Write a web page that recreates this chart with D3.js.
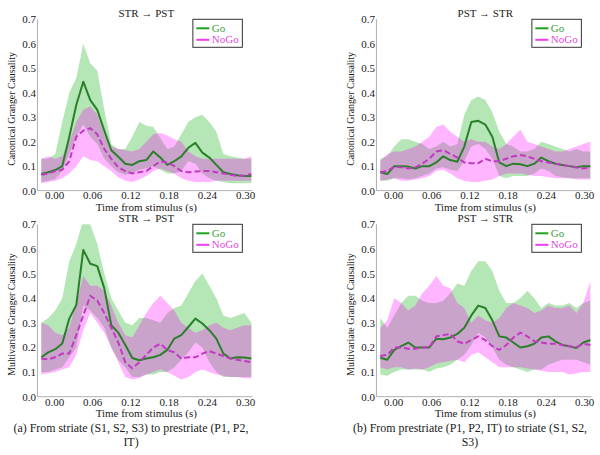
<!DOCTYPE html>
<html><head><meta charset="utf-8">
<script src="https://cdn.jsdelivr.net/npm/d3@7"></script>
<style>
body{margin:0;background:#fff}
svg{display:block}
text{font-family:"Liberation Serif","Times New Roman",Times,serif;fill:#1a1a1a}
</style>
</head><body>
<svg id="chart" width="600" height="455"></svg>
<script>
// ---------------- data ----------------
const time = [-0.020,-0.009,0.002,0.013,0.024,0.035,0.046,0.057,0.068,0.079,0.090,0.101,0.112,0.123,0.134,0.145,0.156,0.167,0.178,0.189,0.200,0.211,0.222,0.233,0.244,0.255,0.266,0.277,0.288,0.299,0.310];
const xTickValues = [0.00,0.06,0.12,0.18,0.24,0.30];
const yTickValues = [0.0,0.1,0.2,0.3,0.4,0.5,0.6,0.7];
const seriesNames = ["Go","NoGo"];

// Canonical GC, STR -> PST
const cgcSP_goMean = [0.068,0.075,0.084,0.10,0.22,0.35,0.445,0.37,0.33,0.245,0.165,0.138,0.11,0.105,0.12,0.125,0.16,0.135,0.105,0.12,0.14,0.175,0.195,0.155,0.135,0.105,0.075,0.068,0.063,0.06,0.06];
const cgcSP_goLo   = [0.035,0.04,0.047,0.08,0.15,0.22,0.27,0.22,0.19,0.13,0.10,0.075,0.065,0.07,0.085,0.09,0.10,0.085,0.07,0.07,0.08,0.12,0.11,0.07,0.05,0.04,0.035,0.03,0.03,0.03,0.03];
const cgcSP_goHi   = [0.13,0.13,0.15,0.28,0.40,0.46,0.60,0.52,0.49,0.33,0.19,0.17,0.17,0.22,0.28,0.265,0.26,0.215,0.17,0.18,0.23,0.28,0.30,0.31,0.28,0.24,0.15,0.14,0.135,0.13,0.13];
const cgcSP_noMean = [0.065,0.07,0.08,0.085,0.12,0.22,0.245,0.255,0.23,0.17,0.13,0.095,0.08,0.07,0.075,0.08,0.10,0.12,0.115,0.10,0.08,0.075,0.078,0.08,0.08,0.075,0.07,0.065,0.06,0.062,0.068];
const cgcSP_noLo   = [0.03,0.035,0.04,0.05,0.07,0.10,0.14,0.125,0.12,0.10,0.08,0.055,0.04,0.035,0.045,0.06,0.08,0.09,0.08,0.07,0.05,0.04,0.035,0.035,0.035,0.04,0.04,0.04,0.04,0.04,0.04];
const cgcSP_noHi   = [0.13,0.14,0.13,0.14,0.20,0.28,0.33,0.345,0.31,0.23,0.18,0.17,0.165,0.16,0.17,0.20,0.23,0.235,0.225,0.21,0.20,0.16,0.14,0.13,0.13,0.13,0.13,0.13,0.13,0.13,0.14];

// Canonical GC, PST -> STR
const cgcPS_goMean = [0.075,0.068,0.10,0.10,0.098,0.09,0.10,0.10,0.115,0.14,0.125,0.118,0.18,0.28,0.285,0.27,0.22,0.115,0.10,0.11,0.108,0.10,0.11,0.135,0.12,0.11,0.105,0.10,0.095,0.10,0.10];
const cgcPS_goLo   = [0.04,0.04,0.05,0.05,0.045,0.05,0.06,0.07,0.09,0.095,0.085,0.08,0.12,0.18,0.19,0.17,0.13,0.06,0.05,0.06,0.06,0.06,0.07,0.09,0.08,0.06,0.055,0.05,0.05,0.05,0.05];
const cgcPS_goHi   = [0.13,0.14,0.18,0.21,0.21,0.20,0.19,0.17,0.18,0.20,0.18,0.19,0.31,0.37,0.385,0.37,0.32,0.24,0.19,0.18,0.16,0.16,0.17,0.20,0.19,0.18,0.17,0.16,0.17,0.16,0.16];
const cgcPS_noMean = [0.075,0.08,0.098,0.095,0.09,0.095,0.11,0.13,0.16,0.165,0.15,0.135,0.115,0.112,0.112,0.13,0.12,0.12,0.13,0.14,0.145,0.14,0.13,0.12,0.115,0.11,0.105,0.10,0.095,0.09,0.095];
const cgcPS_noLo   = [0.04,0.045,0.05,0.04,0.04,0.045,0.05,0.06,0.08,0.085,0.07,0.05,0.04,0.035,0.035,0.04,0.045,0.06,0.07,0.07,0.07,0.065,0.06,0.06,0.055,0.05,0.05,0.05,0.045,0.045,0.045];
const cgcPS_noHi   = [0.12,0.15,0.16,0.16,0.17,0.18,0.20,0.22,0.26,0.27,0.24,0.22,0.20,0.21,0.20,0.20,0.18,0.17,0.19,0.22,0.25,0.20,0.19,0.18,0.17,0.16,0.16,0.17,0.18,0.19,0.20];

// Multivariate GC, STR -> PST
const mgcSP_goMean = [0.16,0.18,0.193,0.216,0.317,0.372,0.596,0.54,0.53,0.44,0.29,0.26,0.21,0.157,0.148,0.155,0.16,0.17,0.19,0.236,0.25,0.283,0.317,0.297,0.27,0.236,0.175,0.155,0.16,0.159,0.155];
const mgcSP_goLo   = [0.10,0.10,0.11,0.12,0.16,0.20,0.37,0.35,0.32,0.28,0.20,0.15,0.12,0.08,0.08,0.09,0.09,0.10,0.10,0.12,0.15,0.18,0.22,0.20,0.14,0.10,0.08,0.08,0.08,0.08,0.08];
const mgcSP_goHi   = [0.30,0.32,0.35,0.40,0.55,0.62,0.72,0.70,0.62,0.50,0.40,0.35,0.30,0.29,0.32,0.32,0.31,0.30,0.34,0.36,0.37,0.42,0.47,0.50,0.45,0.40,0.33,0.32,0.33,0.34,0.30];
const mgcSP_noMean = [0.155,0.152,0.16,0.175,0.175,0.25,0.33,0.41,0.39,0.34,0.28,0.22,0.14,0.115,0.14,0.17,0.20,0.215,0.19,0.18,0.155,0.16,0.16,0.175,0.185,0.175,0.165,0.155,0.15,0.145,0.14];
const mgcSP_noLo   = [0.09,0.095,0.10,0.11,0.12,0.17,0.27,0.34,0.30,0.26,0.20,0.14,0.08,0.07,0.075,0.09,0.10,0.11,0.10,0.085,0.07,0.08,0.10,0.11,0.10,0.09,0.085,0.08,0.08,0.075,0.075];
const mgcSP_noHi   = [0.30,0.29,0.26,0.25,0.28,0.38,0.49,0.45,0.45,0.43,0.37,0.30,0.25,0.24,0.29,0.34,0.38,0.41,0.38,0.35,0.30,0.28,0.26,0.27,0.29,0.30,0.28,0.27,0.28,0.29,0.29];

// Multivariate GC, PST -> STR
const mgcPS_goMean = [0.158,0.15,0.19,0.205,0.22,0.20,0.20,0.20,0.235,0.233,0.24,0.255,0.28,0.33,0.37,0.36,0.31,0.245,0.24,0.22,0.20,0.205,0.215,0.24,0.245,0.225,0.21,0.205,0.198,0.22,0.23];
const mgcPS_goLo   = [0.09,0.085,0.10,0.11,0.11,0.11,0.11,0.10,0.115,0.12,0.13,0.15,0.17,0.21,0.26,0.24,0.20,0.15,0.13,0.12,0.11,0.10,0.11,0.11,0.13,0.14,0.15,0.15,0.15,0.14,0.13];
const mgcPS_goHi   = [0.32,0.28,0.33,0.38,0.41,0.41,0.39,0.38,0.38,0.39,0.42,0.46,0.45,0.51,0.55,0.55,0.51,0.43,0.38,0.38,0.40,0.43,0.40,0.36,0.38,0.37,0.37,0.38,0.36,0.38,0.39];
const mgcPS_noMean = [0.165,0.17,0.20,0.20,0.195,0.195,0.20,0.20,0.245,0.25,0.255,0.225,0.215,0.23,0.245,0.23,0.205,0.19,0.21,0.24,0.26,0.245,0.225,0.22,0.215,0.215,0.21,0.205,0.20,0.215,0.21];
const mgcPS_noLo   = [0.12,0.11,0.12,0.12,0.11,0.115,0.11,0.12,0.135,0.14,0.145,0.15,0.14,0.17,0.18,0.16,0.14,0.12,0.12,0.12,0.12,0.115,0.11,0.105,0.10,0.10,0.10,0.09,0.095,0.10,0.10];
const mgcPS_noHi   = [0.28,0.31,0.40,0.38,0.35,0.37,0.42,0.45,0.49,0.45,0.44,0.38,0.36,0.30,0.33,0.31,0.30,0.32,0.36,0.38,0.37,0.36,0.34,0.35,0.37,0.36,0.36,0.37,0.34,0.38,0.47];

const titles = ["STR \u2192 PST","PST \u2192 STR","STR \u2192 PST","PST \u2192 STR"];
const yLabels = ["Canonical Granger Causality","Multivariate Granger Causality"];
const xLabel = "Time from stimulus (s)";
const captionA = ["(a) From striate (S1, S2, S3) to prestriate (P1, P2,","IT)"];
const captionB = ["(b) From prestriate (P1, P2, IT) to striate (S1, S2,","S3)"];

// ---------------- layout / style ----------------
const colors = {
  goFill:"rgba(0,170,0,0.29)", noFill:"rgba(255,0,255,0.29)",
  goLine:"#2a7f2a", noLine:"#c23ac2",
  goLegend:"#1fa01f", noLegend:"#f03cf0",
  goText:"#3a9e3a", noText:"#e048e0", axis:"#9a9a9a"
};
const FONT = '"Liberation Serif","Times New Roman",Times,serif';
const panels = [
  {x0:54, x30:245,   yB:190.6, yT:19.3, title:titles[0], ylab:yLabels[0],
   go:[cgcSP_goMean,cgcSP_goLo,cgcSP_goHi], no:[cgcSP_noMean,cgcSP_noLo,cgcSP_noHi]},
  {x0:393, x30:584,  yB:190.6, yT:19.3, title:titles[1], ylab:yLabels[0],
   go:[cgcPS_goMean,cgcPS_goLo,cgcPS_goHi], no:[cgcPS_noMean,cgcPS_noLo,cgcPS_noHi]},
  {x0:54, x30:245,   yB:396.7, yT:224.3, title:titles[2], ylab:yLabels[1],
   go:[mgcSP_goMean,mgcSP_goLo,mgcSP_goHi], no:[mgcSP_noMean,mgcSP_noLo,mgcSP_noHi]},
  {x0:393, x30:584,  yB:396.7, yT:224.3, title:titles[3], ylab:yLabels[1],
   go:[mgcPS_goMean,mgcPS_goLo,mgcPS_goHi], no:[mgcPS_noMean,mgcPS_noLo,mgcPS_noHi]}
];

const svg = d3.select("#chart");
const fs = 11;

panels.forEach((p, pi) => {
  const x = d3.scaleLinear().domain([0, 0.30]).range([p.x0, p.x30]);
  const y = d3.scaleLinear().domain([0, 0.7]).range([p.yB, p.yT]);
  const g = svg.append("g");
  const xL = x(-0.026), xR = x(0.3115);

  const clipId = "clip" + pi;
  svg.append("clipPath").attr("id", clipId).append("rect")
    .attr("x", xL).attr("y", p.yT).attr("width", xR - xL).attr("height", p.yB - p.yT);
  const plot = g.append("g").attr("clip-path", `url(#${clipId})`);

  const area = (lo, hi) => d3.area()
    .x((d, i) => x(time[i])).y0((d, i) => y(lo[i])).y1((d, i) => y(hi[i]))(time);
  const line = (m) => d3.line().x((d, i) => x(time[i])).y((d, i) => y(m[i]))(time);

  plot.append("path").attr("d", area(p.go[1], p.go[2])).attr("fill", colors.goFill);
  plot.append("path").attr("d", area(p.no[1], p.no[2])).attr("fill", colors.noFill);
  plot.append("path").attr("d", line(p.go[0])).attr("fill", "none")
    .attr("stroke", colors.goLine).attr("stroke-width", 2).attr("stroke-linejoin", "round");
  plot.append("path").attr("d", line(p.no[0])).attr("fill", "none")
    .attr("stroke", colors.noLine).attr("stroke-width", 2).attr("stroke-dasharray", "6,3");

  // axes
  const xAxis = d3.axisBottom(x).tickValues(xTickValues).tickSize(0).tickPadding(1)
    .tickFormat(d3.format(".2f"));
  const yAxis = d3.axisLeft(y).tickValues(yTickValues).tickSize(0).tickPadding(1.5)
    .tickFormat(d3.format(".1f"));
  const gx = g.append("g").attr("transform", `translate(0,${p.yB})`).call(xAxis);
  const gy = g.append("g").attr("transform", `translate(${xL},0)`).call(yAxis);
  gx.select(".domain").remove(); gy.select(".domain").remove();
  [gx, gy].forEach(a => { a.attr("font-family", FONT).attr("font-size", fs);
    a.selectAll("text").attr("fill", "#1a1a1a"); });
  g.append("line").attr("x1", xL).attr("x2", xR).attr("y1", p.yB).attr("y2", p.yB)
    .attr("stroke", colors.axis).attr("stroke-width", 0.8);
  g.append("line").attr("x1", xL).attr("x2", xL).attr("y1", p.yT).attr("y2", p.yB)
    .attr("stroke", colors.axis).attr("stroke-width", 0.8);

  const cx = (x(-0.02) + x(0.31)) / 2;
  g.append("text").attr("x", cx).attr("y", p.yB + 20.5).attr("text-anchor", "middle")
    .attr("font-size", fs).text(xLabel);
  g.append("text").attr("x", cx).attr("y", p.yT - 2.5).attr("text-anchor", "middle")
    .attr("font-size", fs).text(p.title);
  const ly = (p.yT + p.yB) / 2 + 4;
  g.append("text").attr("transform", `translate(${xL - 22.5},${ly}) rotate(-90)`)
    .attr("text-anchor", "middle").attr("font-size", 9.8).text(p.ylab);

  // legend
  const bx = x(0.31) - 9 - 49.5, by = p.yT;
  const lg = g.append("g").attr("transform", `translate(${bx},${by})`);
  lg.append("rect").attr("width", 49.5).attr("height", 28).attr("fill", "#fff")
    .attr("stroke", "#333").attr("stroke-width", 1);
  const legendCols = [[colors.goLegend, colors.goText], [colors.noLegend, colors.noText]];
  seriesNames.forEach((n, i) => {
    const yy = 9 + i * 11.5;
    lg.append("line").attr("x1", 3.5).attr("x2", 16.5).attr("y1", yy).attr("y2", yy)
      .attr("stroke", legendCols[i][0]).attr("stroke-width", 2);
    lg.append("text").attr("x", 19).attr("y", yy + 3.6).attr("font-size", fs)
      .style("fill", legendCols[i][1]).text(n);
  });
});

// captions
const capFs = 11.9;
[[captionA, 131], [captionB, 470]].forEach(([lines, cx]) => {
  lines.forEach((t, i) => {
    svg.append("text").attr("x", cx).attr("y", 431.5 + i * 14).attr("text-anchor", "middle")
      .attr("font-size", capFs).text(t);
  });
});
</script>
</body></html>
